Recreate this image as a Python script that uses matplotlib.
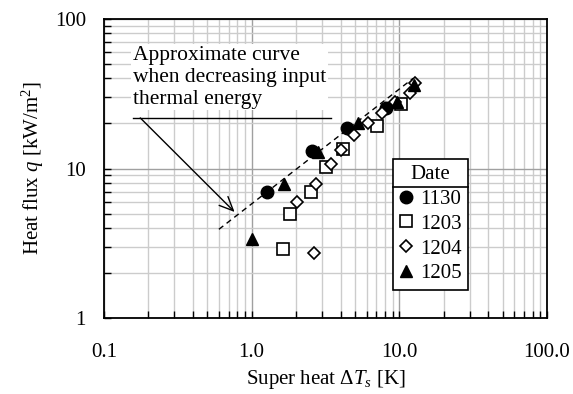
import matplotlib
matplotlib.use("Agg")
import matplotlib.pyplot as plt
from matplotlib.ticker import FixedLocator, LogLocator, NullFormatter, FixedFormatter
from matplotlib.lines import Line2D

plt.rcParams['font.family'] = ['Liberation Serif', 'DejaVu Serif']
plt.rcParams['mathtext.fontset'] = 'custom'
plt.rcParams['mathtext.rm'] = 'Liberation Serif'
plt.rcParams['mathtext.it'] = 'Liberation Serif:italic'

# ---- data ----
x_1130 = [1.28, 2.56, 4.41, 8.12]
q_1130 = [7.0, 13.1, 18.7, 25.5]

x_1203 = [1.63, 1.83, 2.51, 3.2, 4.17, 7.08, 10.2]
q_1203 = [2.9, 5.0, 6.93, 10.2, 13.5, 19.1, 27.0]

x_1204 = [2.63, 2.02, 2.71, 3.45, 4.03, 4.97, 6.18, 7.63, 9.4, 11.75, 12.8]
q_1204 = [2.73, 5.94, 7.88, 10.8, 13.3, 16.8, 20.1, 23.4, 28.0, 31.8, 37.2]

x_1205 = [1.0, 1.65, 2.8, 5.24, 9.65, 12.6]
q_1205 = [3.4, 7.9, 12.8, 20.1, 27.7, 36.2]

curve_x = [0.60, 12.4]
curve_q = [3.92, 40.1]

x_ticks = [0.1, 1.0, 10.0, 100.0]
x_ticklabels = ['0.1', '1.0', '10.0', '100.0']
y_ticks = [1, 10, 100]
y_ticklabels = ['1', '10', '100']

note_text = "Approximate curve\nwhen decreasing input\nthermal energy"
note_line_x = [0.157, 3.45]
note_line_q = [21.8, 21.8]
arrow_start = (0.176, 21.8)
arrow_end = (0.766, 5.12)

FS = 15

# ---- figure ----
fig = plt.figure(figsize=(5.73, 3.94), dpi=100)
ax = fig.add_axes([104/573, 1-318/394, 443/573, 299/394])
ax.set_xscale('log')
ax.set_yscale('log')
ax.set_xlim(0.1, 100)
ax.set_ylim(1, 100)

ax.xaxis.set_major_locator(FixedLocator(x_ticks))
ax.xaxis.set_major_formatter(FixedFormatter(x_ticklabels))
ax.yaxis.set_major_locator(FixedLocator(y_ticks))
ax.yaxis.set_major_formatter(FixedFormatter(y_ticklabels))
ax.xaxis.set_minor_locator(LogLocator(base=10, subs=range(2, 10)))
ax.yaxis.set_minor_locator(LogLocator(base=10, subs=range(2, 10)))
ax.xaxis.set_minor_formatter(NullFormatter())
ax.yaxis.set_minor_formatter(NullFormatter())

ax.grid(True, which='major', color='#a0a0a0', lw=1.0, zorder=0)
ax.grid(True, which='minor', color='#cccccc', lw=1.0, zorder=0)
ax.set_axisbelow(True)

ax.tick_params(axis='both', which='both', direction='in', top=False, right=False,
               labelsize=FS, color='black')
ax.tick_params(axis='both', which='major', length=5, width=1)
ax.tick_params(axis='both', which='minor', length=5, width=1)
ax.tick_params(axis='x', which='major', pad=18)
ax.tick_params(axis='y', which='major', pad=13)
for s in ax.spines.values():
    s.set_linewidth(1.3)
    s.set_color('black')

ax.set_xlabel(r'Super heat $\Delta T_s$ [K]', fontsize=FS, labelpad=4)
ax.set_ylabel(r'Heat flux $q$ [kW/m$^2$]', fontsize=FS, labelpad=6)

# dashed approximate curve
ax.plot(curve_x, curve_q, color='black', ls=(0, (4, 3)), lw=1.0, zorder=2)

h1, = ax.plot(x_1130, q_1130, 'o', ms=9, mfc='black', mec='black', ls='none', zorder=3, label='1130')
h2, = ax.plot(x_1203, q_1203, 's', ms=9, mfc='white', mec='black', mew=1.2, ls='none', zorder=3, label='1203')
h3, = ax.plot(x_1204, q_1204, 'D', ms=6.5, mfc='white', mec='black', mew=1.2, ls='none', zorder=3, label='1204')
h4, = ax.plot(x_1205, q_1205, '^', ms=9, mfc='black', mec='black', ls='none', zorder=3, label='1205')

# annotation
ax.text(0.065, 0.91, note_text, transform=ax.transAxes, fontsize=15.5, va='top', ha='left',
        linespacing=1.2,
        bbox=dict(boxstyle='square,pad=0.08', fc='white', ec='none'), zorder=4)
ax.plot(note_line_x, note_line_q, color='black', lw=1.0, zorder=4)
ax.annotate('', xy=arrow_end, xytext=arrow_start,
            arrowprops=dict(arrowstyle='->,head_length=1.0,head_width=0.45', color='black', lw=1.0,
                            shrinkA=0, shrinkB=0), zorder=4)

leg = ax.legend(handles=[h1, h2, h3, h4], title='Date', loc='upper left',
                bbox_to_anchor=(0.652, 0.532), fontsize=FS, title_fontsize=FS,
                frameon=True, fancybox=False, edgecolor='black', framealpha=1,
                handlelength=0.7, handletextpad=0.3, borderpad=0.3, labelspacing=0.25,
                borderaxespad=0)
leg.get_frame().set_linewidth(1.2)
leg.set_zorder(5)

fig.canvas.draw()
fb = leg.get_frame().get_window_extent()
tb = leg.get_title().get_window_extent()
ysep = tb.y0 - 3
inv = fig.transFigure.inverted()
(p0x, p0y) = inv.transform((fb.x0, ysep))
(p1x, p1y) = inv.transform((fb.x1, ysep))
fig.add_artist(Line2D([p0x, p1x], [p0y, p1y], color='black', lw=1.2, zorder=10))

fig.savefig('out.png', dpi=100)
